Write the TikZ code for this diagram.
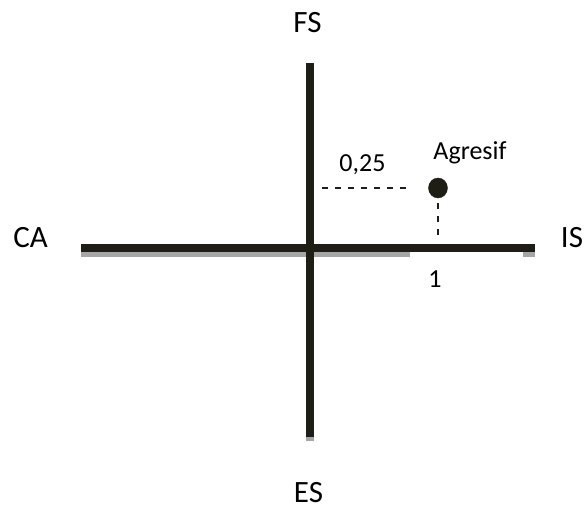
\documentclass[tikz,border=0pt]{standalone}
\usetikzlibrary{shapes.geometric}
\usepackage{fontspec}
\setmainfont{Carlito}
\definecolor{axisdark}{RGB}{30,30,22}
\definecolor{axisgray}{RGB}{166,166,166}
\begin{document}
\begin{tikzpicture}[x=1pt,y=1pt,
  biglabel/.style={anchor=base,inner sep=0pt,font=\fontsize{31}{31}\selectfont},
  smalllabel/.style={anchor=base,inner sep=0pt,font=\fontsize{26}{26}\selectfont},
  axisline/.style={draw=axisdark,line width=8pt},
  axisshadow/.style={draw=axisgray,line width=5pt},
  guide/.style={draw=axisdark,line width=1.4pt,dash pattern=on 6pt off 7pt}]
\useasboundingbox (0,0) rectangle (584,508);
% axis end points
\coordinate (hl) at (81,260);
\coordinate (hr) at (535,260);
\coordinate (vt) at (310,445);
\coordinate (vb) at (310,71);
% shadows
\draw[axisshadow] (81,253.5) -- (410,253.5);
\draw[axisshadow] (523,253.5) -- (535,253.5);
\draw[axisgray,line width=8pt] (310,71) -- (310,67);
% axes
\draw[axisline] (hl) -- (hr);
\draw[axisline] (vb) -- (vt);
% labels
\node[biglabel] (fs) at (307.5,475) {FS};
\node[biglabel] (es) at (308.5,5.5) {ES};
\node[biglabel] (ca) at (30.5,260) {CA};
\node[biglabel] (is) at (572,260) {IS};
% point
\node[draw=axisdark,fill=axisdark,ellipse,minimum width=19pt,minimum height=20pt,inner sep=0pt] (pt) at (438,320) {};
\node[smalllabel] (agr) at (470,348) {Agresif};
\node[smalllabel] (q) at (362.5,336) {0,25};
\node[smalllabel] (one) at (435,220) {1};
% guides
\coordinate (gh) at (322,320);
\coordinate (gv) at (438,273);
\draw[guide] (gh) -- (412,320);
\draw[guide] ([yshift=-5pt]pt.south) -- (gv);
\end{tikzpicture}
\end{document}
